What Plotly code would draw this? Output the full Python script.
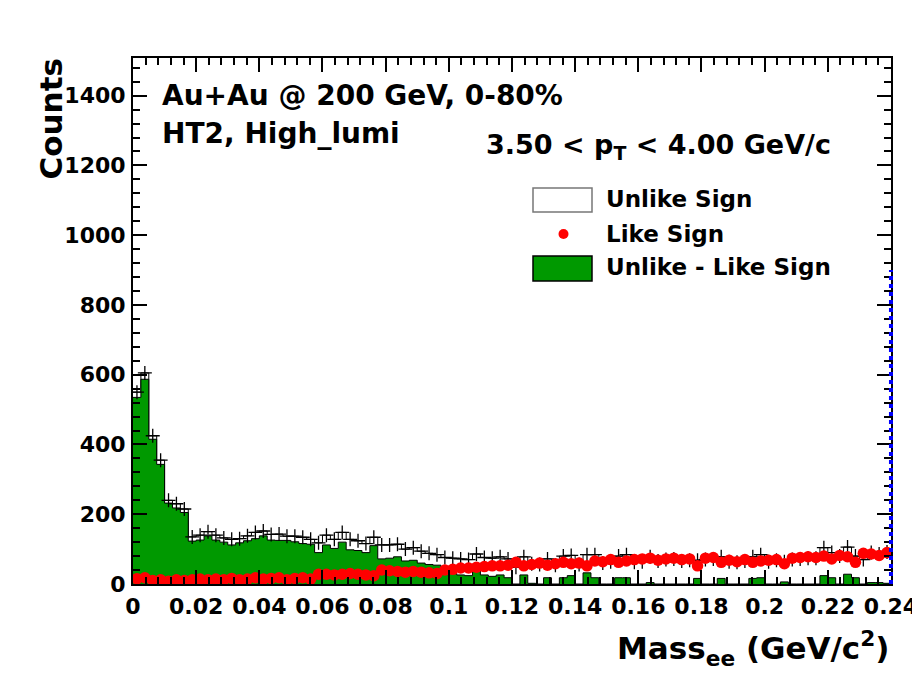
import plotly.graph_objects as go

# ---------------- data ----------------
mass_min = 0.0
mass_max = 0.24
n_bins = 96

unlike_sign = [550, 605, 425, 355, 240, 230, 215, 135, 140, 150, 140, 132, 128, 130, 138, 148,
               152, 142, 143, 137, 137, 134, 128, 118, 140, 128, 148, 128, 124, 116, 134, 112,
               112, 114, 100, 104, 94, 88, 84, 76, 74, 72, 70, 86, 76, 74, 78, 72,
               48, 78, 58, 56, 72, 54, 80, 82, 56, 84, 84, 60, 64, 80, 84, 62,
               64, 78, 66, 70, 72, 66, 68, 68, 70, 72, 78, 64, 62, 66, 78, 84,
               64, 68, 64, 70, 72, 74, 74, 104, 90, 80, 106, 80, 70, 90, 86, 92]

like_sign = [15, 18, 10, 12, 8, 12, 10, 12, 14, 12, 14, 12, 16, 12, 14, 18,
             14, 16, 18, 12, 16, 18, 14, 28, 28, 26, 28, 30, 28, 26, 24, 40,
             38, 36, 34, 36, 34, 32, 30, 40, 42, 46, 46, 48, 50, 52, 52, 54,
             62, 52, 56, 60, 54, 58, 62, 58, 60, 52, 66, 64, 70, 62, 66, 70,
             72, 74, 68, 72, 74, 70, 72, 52, 74, 76, 62, 68, 64, 70, 62, 66,
             68, 70, 58, 74, 76, 78, 76, 80, 72, 82, 78, 62, 88, 86, 82, 90]

cut_mass = 0.24
cut_height = 900

y_tick_vals = [0, 200, 400, 600, 800, 1000, 1200, 1400]
x_tick_vals = [0, 0.02, 0.04, 0.06, 0.08, 0.1, 0.12, 0.14, 0.16, 0.18, 0.2, 0.22, 0.24]
x_tick_text = ["0", "0.02", "0.04", "0.06", "0.08", "0.1", "0.12", "0.14", "0.16", "0.18", "0.2", "0.22", "0.24"]

# ---------------- derived ----------------
bw = (mass_max - mass_min) / n_bins
edges = [mass_min + i * bw for i in range(n_bins + 1)]
centers = [mass_min + (i + 0.5) * bw for i in range(n_bins)]
signal = [max(u - l, 0) for u, l in zip(unlike_sign, like_sign)]

FONT = "DejaVu Sans"
GREEN = "#009900"
x_range = [mass_min, mass_max + 1e-5]
y_range = [0, 1508]

fig = go.Figure()

# Unlike sign histogram (white fill, black outline)
fig.add_trace(go.Scatter(
    x=edges, y=unlike_sign + [unlike_sign[-1]],
    mode="lines", line=dict(shape="hv", color="black", width=1),
    fill="tozeroy", fillcolor="white", hoverinfo="skip", showlegend=False))

# Unlike - Like (green)
fig.add_trace(go.Scatter(
    x=edges, y=signal + [signal[-1]],
    mode="lines", line=dict(shape="hv", color="black", width=1),
    fill="tozeroy", fillcolor=GREEN, showlegend=False))

# Unlike sign "+" markers
fig.add_trace(go.Scatter(
    x=centers, y=unlike_sign, mode="markers",
    marker=dict(symbol="cross-thin", size=10, line=dict(color="black", width=1.3)),
    showlegend=False))

# Like sign red points
fig.add_trace(go.Scatter(
    x=centers, y=like_sign, mode="markers",
    marker=dict(symbol="circle", size=11.5, color="red"),
    showlegend=False))

# ---------------- layout ----------------
L, R, T, B = 133, 891, 58, 584
W, H = 912, 673

def px(x):
    return (x - L) / (R - L)

def py(y):
    return (B - y) / (B - T)

axis_common = dict(
    showgrid=False, zeroline=False, showline=True, linecolor="black", linewidth=2,
    mirror="allticks", ticks="inside", tickcolor="black", tickwidth=1.5,
    tickfont=dict(family=FONT, size=22, color="black", weight="bold"),
    ticklabeloverflow="allow", automargin=False,
)

fig.update_layout(
    width=W, height=H,
    margin=dict(l=L, r=W - R, t=T, b=H - B, autoexpand=False),
    paper_bgcolor="white", plot_bgcolor="white",
    showlegend=False,
    xaxis=dict(range=x_range, tickvals=x_tick_vals, ticktext=x_tick_text,
               ticklen=14, minor=dict(dtick=0.004, ticklen=7, ticks="inside", tickcolor="black"),
               ticklabelstandoff=2, **axis_common),
    yaxis=dict(range=y_range, tickvals=y_tick_vals, ticklen=14,
               minor=dict(dtick=40, ticklen=7, ticks="inside", tickcolor="black"),
               ticklabelstandoff=1, **axis_common),
)

annotations = [
    dict(text="<b>Counts</b>", x=px(51), y=py(57), textangle=-90, xanchor="center", yanchor="top",
         font=dict(size=31)),
    dict(text="<b>Mass<sub>ee</sub> (GeV/c<sup>2</sup>)</b>", x=1.0, y=py(648), xanchor="right",
         yanchor="middle", font=dict(size=31)),
    dict(text="<b>Au+Au @ 200 GeV, 0-80%</b>", x=px(160), y=py(96), xanchor="left", yanchor="middle",
         font=dict(size=28)),
    dict(text="<b>HT2, High_lumi</b>", x=px(160), y=py(133), xanchor="left", yanchor="middle",
         font=dict(size=28)),
    dict(text="<b>3.50 &lt; p<sub>T</sub> &lt; 4.00 GeV/c</b>", x=px(484), y=py(147), xanchor="left",
         yanchor="middle", font=dict(size=27)),
    dict(text="<b>Unlike Sign</b>", x=px(604), y=py(199), xanchor="left", yanchor="middle",
         font=dict(size=23)),
    dict(text="<b>Like Sign</b>", x=px(604), y=py(234), xanchor="left", yanchor="middle",
         font=dict(size=23)),
    dict(text="<b>Unlike - Like Sign</b>", x=px(604), y=py(267), xanchor="left", yanchor="middle",
         font=dict(size=23)),
]
for a in annotations:
    a.update(xref="paper", yref="paper", showarrow=False)
    a["font"].update(family=FONT, color="black")
fig.update_layout(annotations=annotations)

cut_paper_x = (cut_mass - x_range[0]) / (x_range[1] - x_range[0])
cut_paper_y = (cut_height - y_range[0]) / (y_range[1] - y_range[0])
shapes = [
    # blue dotted line drawn above the frame
    dict(type="line", xref="paper", yref="paper", x0=cut_paper_x, x1=cut_paper_x, y0=0, y1=cut_paper_y,
         line=dict(color="#0000ff", width=4, dash="dot"), layer="above"),
    dict(type="rect", xref="paper", yref="paper", x0=px(533), x1=px(592), y0=py(212), y1=py(188),
         line=dict(color="#777777", width=1.5), fillcolor="white"),
    dict(type="circle", xref="paper", yref="paper", x0=px(558.5), x1=px(568.5), y0=py(239), y1=py(229),
         line=dict(color="red", width=0), fillcolor="red"),
    dict(type="rect", xref="paper", yref="paper", x0=px(533), x1=px(592), y0=py(281), y1=py(256),
         line=dict(color="black", width=1.5), fillcolor=GREEN),
]
fig.update_layout(shapes=shapes)

fig.write_html("out.html")
